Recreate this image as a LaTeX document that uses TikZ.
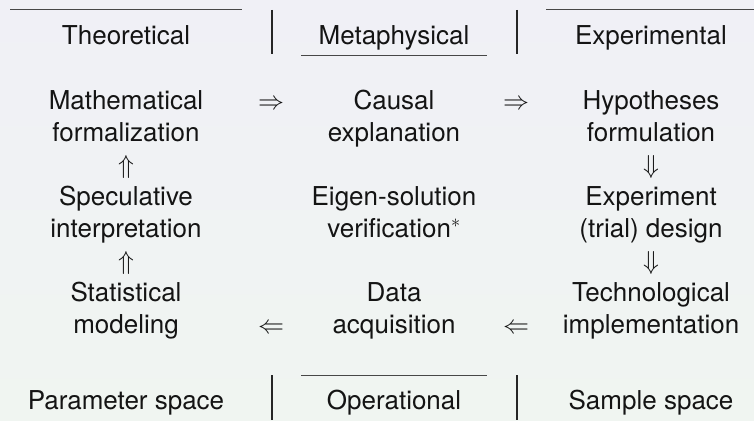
\documentclass[tikz,border=0pt]{standalone}
\usepackage{fix-cm}
\usepackage{fontspec}
\setmainfont{TeX Gyre Heros}
\begin{document}
\begin{tikzpicture}[x=1pt,y=-1pt,
  every node/.style={inner sep=0pt, outer sep=0pt, anchor=base,
    font=\fontsize{26}{32}\selectfont, text=black!92},
  item/.style={align=center},
  arr/.style={},
  rulel/.style={line width=1pt, draw=black!72},
  barl/.style={line width=1.3pt, draw=black!85}]
\definecolor{bgtop}{RGB}{240,240,246}
\definecolor{bgbot}{RGB}{240,245,241}
\shade[top color=bgtop, bottom color=bgbot] (0,0) rectangle (754,420);
\useasboundingbox (0,0) rectangle (754,420);
% header
\node (theo) at (126,45) {Theoretical};
\node (meta) at (394,45) {Metaphysical};
\node (expe) at (651,45) {Experimental};
\coordinate (tl1) at (10,10); \coordinate (tl2) at (242,10);
\coordinate (tr1) at (546,10); \coordinate (tr2) at (754,10);
\coordinate (mu1) at (301,56); \coordinate (mu2) at (487,56);
\coordinate (b1t) at (272,10); \coordinate (b1b) at (272,54);
\coordinate (b2t) at (517,10); \coordinate (b2b) at (517,54);
\draw[rulel] (tl1) -- (tl2);
\draw[rulel] (tr1) -- (tr2);
\draw[rulel] (mu1) -- (mu2);
\draw[barl] (b1t) -- (b1b);
\draw[barl] (b2t) -- (b2b);
% row 1 (base anchor = last line baseline)
\node[item] (math) at (126,141) {Mathematical\\formalization};
\node[item] (caus) at (394,141) {Causal\\explanation};
\node[item] (hypo) at (651,141) {Hypotheses\\formulation};
\node[arr] (a1) at (271,109) {$\Rightarrow$};
\node[arr] (a2) at (516,109) {$\Rightarrow$};
\node[arr] (a3) at (126,173) {$\Uparrow$};
\node[arr] (a4) at (651,173) {$\Downarrow$};
% row 2
\node[item] (spec) at (126,237) {Speculative\\interpretation};
\node[item] (eige) at (394,237) {Eigen-solution\\verification$^{*}$};
\node[item] (expd) at (651,237) {Experiment\\(trial) design};
\node[arr] (a5) at (126,269) {$\Uparrow$};
\node[arr] (a6) at (651,269) {$\Downarrow$};
% row 3
\node[item] (stat) at (126,333) {Statistical\\modeling};
\node[item] (data) at (394,333) {Data\\acquisition};
\node[item] (tech) at (651,333) {Technological\\implementation};
\node[arr] (a7) at (271,333) {$\Leftarrow$};
\node[arr] (a8) at (516,333) {$\Leftarrow$};
% footer
\node (para) at (126,409) {Parameter space};
\node (oper) at (394,409) {Operational};
\node (samp) at (651,409) {Sample space};
\coordinate (ou1) at (301,375); \coordinate (ou2) at (487,375);
\coordinate (c1t) at (272,375); \coordinate (c1b) at (272,420);
\coordinate (c2t) at (517,375); \coordinate (c2b) at (517,420);
\draw[rulel] (ou1) -- (ou2);
\draw[barl] (c1t) -- (c1b);
\draw[barl] (c2t) -- (c2b);
\end{tikzpicture}
\end{document}
